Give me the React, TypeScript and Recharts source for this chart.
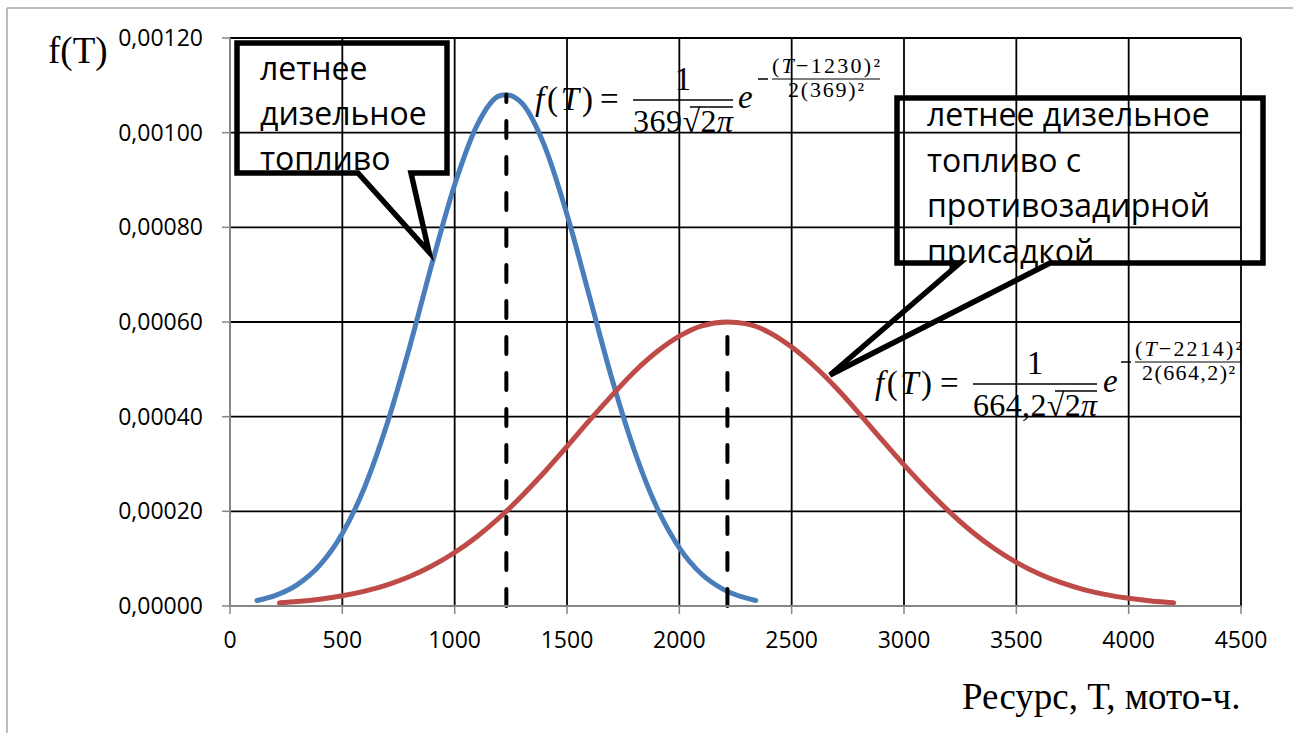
import { LineChart, Line, XAxis, YAxis, CartesianGrid } from 'recharts';

// Resource (moto-hours) vs probability density, two fuels
const summerHours = [120, 200, 300, 400, 500, 600, 700, 800, 900, 1000, 1100, 1200, 1230, 1300, 1400, 1500, 1600, 1700, 1800, 1900, 2000, 2100, 2200, 2340];
const summerDensity = [0.0000117, 0.000022, 0.0000452, 0.0000862, 0.000153, 0.000252, 0.000386, 0.000548, 0.000725, 0.00089, 0.001016, 0.001078, 0.00108, 0.001062, 0.000972, 0.000827, 0.000654, 0.00048, 0.000328, 0.000208, 0.000123, 0.000067, 0.000034, 0.0000117];

const additiveHours = [220, 300, 400, 500, 600, 700, 800, 900, 1000, 1100, 1200, 1300, 1400, 1500, 1600, 1700, 1800, 1900, 2000, 2100, 2214, 2300, 2400, 2500, 2600, 2700, 2800, 2900, 3000, 3100, 3200, 3300, 3400, 3500, 3600, 3700, 3800, 3900, 4000, 4100, 4200];
const additiveDensity = [0.0000066, 0.0000094, 0.0000144, 0.0000215, 0.0000314, 0.0000447, 0.0000623, 0.0000849, 0.000113, 0.000147, 0.000187, 0.000233, 0.000283, 0.000337, 0.000392, 0.000445, 0.000495, 0.000537, 0.00057, 0.000592, 0.0006, 0.000596, 0.000578, 0.000547, 0.000507, 0.00046, 0.000407, 0.000352, 0.000298, 0.000247, 0.0002, 0.000158, 0.000122, 0.0000922, 0.0000681, 0.0000492, 0.0000347, 0.000024, 0.0000162, 0.0000107, 0.0000069];

// mean lines: (T, f) at the peak of each curve
const summerMean = [1230, 0.00108];
const additiveMean = [2214, 0.0006];

const xTicks = [0, 500, 1000, 1500, 2000, 2500, 3000, 3500, 4000, 4500];
const yTicks = [0, 0.0002, 0.0004, 0.0006, 0.0008, 0.001, 0.0012];

const summerLabel = ['летнее', 'дизельное', 'топливо'];
const additiveLabel = ['летнее дизельное', 'топливо с', 'противозадирной', 'присадкой'];

const zip = (ts: number[], fs: number[]) => ts.map((t, i) => ({ t, f: fs[i] }));
const summerData = zip(summerHours, summerDensity);
const additiveData = zip(additiveHours, additiveDensity);
const meanLine = (m: number[]) => [{ t: m[0], f: 0 }, { t: m[0], f: m[1] }];

const BLUE = '#4A7EBB';
const RED = '#BE4B48';
const AXIS = '#868686';
const tickFont = { fontFamily: 'Open Sans', fontSize: 23, fill: '#000' };
const serif = 'Liberation Serif';
const calloutFont = { fontFamily: 'Open Sans', fontSize: 32, fill: '#000' };

type FormulaProps = {
  x: number; y: number; fw: number; eqL: number; fracL: number; fracR: number; rootX: number;
  den: string; eX: number; expL: number; expR: number; expBar: number;
  expNum: string; numW: number; expDen: string; denW: number;
};

// f(T) = 1/(s·√2π) · e^(−(T−m)²/2s²)
function Formula(p: FormulaProps) {
  const mid = (p.fracL + p.fracR) / 2;
  const emid = (p.expL + p.expR) / 2;
  const bar = p.y - 10;
  return (
    <g fontFamily={serif} fill="#000">
      <text x={p.x} y={p.y} fontSize={33} textLength={p.fw} lengthAdjust="spacing">
        <tspan fontStyle="italic">f</tspan>(<tspan fontStyle="italic">T</tspan>)
      </text>
      <text x={p.eqL} y={p.y} fontSize={33}>=</text>
      <text x={mid} y={bar - 10} fontSize={33} textAnchor="middle">1</text>
      <line x1={p.fracL} x2={p.fracR} y1={bar} y2={bar} stroke="#000" strokeWidth={1.5} />
      <text x={p.fracL} y={bar + 32} fontSize={32} textLength={p.fracR - p.fracL} lengthAdjust="spacing">
        {p.den}√2<tspan fontStyle="italic">π</tspan>
      </text>
      <line x1={p.rootX} x2={p.fracR} y1={bar + 7} y2={bar + 7} stroke="#000" strokeWidth={1.3} />
      <text x={p.eX} y={p.y - 2} fontSize={33} fontStyle="italic">e</text>
      <line x1={p.expL - 14} x2={p.expL - 4} y1={p.expBar} y2={p.expBar} stroke="#000" strokeWidth={1.5} />
      <line x1={p.expL} x2={p.expR} y1={p.expBar} y2={p.expBar} stroke="#000" strokeWidth={1.2} />
      <text x={emid - p.numW / 2} y={p.expBar - 6} fontSize={22} textLength={p.numW} lengthAdjust="spacing">
        (<tspan fontStyle="italic">T</tspan>−{p.expNum})²
      </text>
      <text x={emid - p.denW / 2} y={p.expBar + 18} fontSize={22} textLength={p.denW} lengthAdjust="spacing">
        2({p.expDen})²
      </text>
    </g>
  );
}

export default function App() {
  return (
    <div style={{ position: 'absolute', left: 0, top: 0, width: 1293, height: 733, background: '#fff' }}>
      <LineChart width={1293} height={733} margin={{ top: 38, right: 52, bottom: 0, left: 0 }}>
        <CartesianGrid stroke="#000" strokeWidth={1.8} />
        <XAxis
          type="number"
          dataKey="t"
          domain={[0, 4500]}
          ticks={xTicks}
          height={127}
          tick={tickFont}
          tickSize={8}
          tickMargin={18}
          axisLine={{ stroke: AXIS, strokeWidth: 2 }}
          tickLine={{ stroke: AXIS, strokeWidth: 1.5 }}
          allowDataOverflow
        />
        <YAxis
          type="number"
          dataKey="f"
          domain={[0, 0.0012]}
          ticks={yTicks}
          width={230}
          tick={tickFont}
          tickSize={8}
          tickMargin={19}
          tickFormatter={(v: number) => v.toFixed(5).replace('.', ',')}
          axisLine={{ stroke: AXIS, strokeWidth: 2 }}
          tickLine={{ stroke: AXIS, strokeWidth: 1.5 }}
        />
        <Line data={summerData} dataKey="f" type="monotone" stroke={BLUE} strokeWidth={5} strokeLinecap="round" dot={false} isAnimationActive={false} />
        <Line data={additiveData} dataKey="f" type="monotone" stroke={RED} strokeWidth={5} strokeLinecap="round" dot={false} isAnimationActive={false} />
        <Line data={meanLine(summerMean)} dataKey="f" stroke="#000" strokeWidth={4} strokeDasharray="17 19" strokeLinecap="round" dot={false} isAnimationActive={false} />
        <Line data={meanLine(additiveMean)} dataKey="f" stroke="#000" strokeWidth={4} strokeDasharray="17 19" strokeLinecap="round" dot={false} isAnimationActive={false} />
      </LineChart>

      <svg width={1293} height={733} style={{ position: 'absolute', left: 0, top: 0, pointerEvents: 'none' }}>
        {/* outer frame */}
        <line x1={7} y1={8} x2={1293} y2={8} stroke="#a6a6a6" strokeWidth={1.5} />
        <line x1={7} y1={8} x2={7} y2={733} stroke="#a6a6a6" strokeWidth={1.5} />

        <text x={48} y={63} fontFamily={serif} fontSize={37}>f(T)</text>
        <text x={962} y={709} fontFamily={serif} fontSize={37}>Ресурс, Т, мото-ч.</text>

        {/* callouts */}
        <path d="M358,173 L429,252 L411,173 L447,173 L447,43 L237,43 L237,173 Z" fill="none" stroke="#000" strokeWidth={5.5} />
        {summerLabel.map((s, i) => (
          <text key={s} x={260} y={80 + i * 45} {...calloutFont}>{s}</text>
        ))}
        <path d="M960,263 L830,375 L1050,263 L1263,263 L1263,98 L897,98 L897,263 Z" fill="none" stroke="#000" strokeWidth={5.5} />
        {additiveLabel.map((s, i) => (
          <text key={s} x={927} y={126 + i * 45.5} {...calloutFont}>{s}</text>
        ))}

        <Formula x={535} y={110} fw={58} eqL={600} fracL={633} fracR={733} rootX={690} den="369"
          eX={738} expL={772} expR={880} expBar={79} expNum="1230" numW={108} expDen="369" denW={76} />
        <Formula x={875} y={394} fw={57} eqL={940} fracL={973} fracR={1097} rootX={1055} den="664,2"
          eX={1103} expL={1135} expR={1242} expBar={362} expNum="2214" numW={107} expDen="664,2" denW={93} />
      </svg>
    </div>
  );
}
